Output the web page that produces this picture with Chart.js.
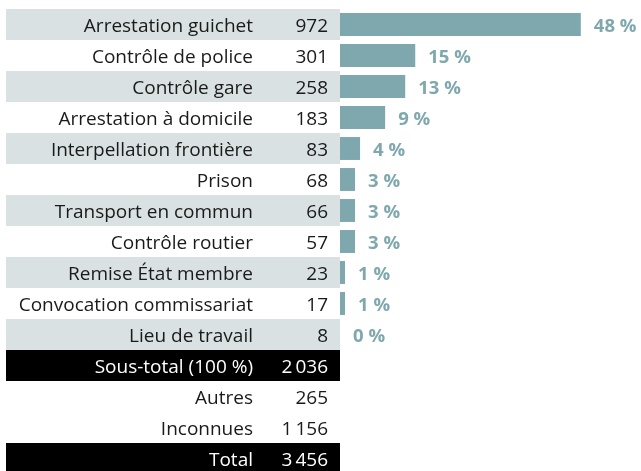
<!DOCTYPE html>
<html>
<head>
<meta charset="utf-8">
<script src="https://cdn.jsdelivr.net/npm/chart.js@4"></script>
<style>
  html, body { margin: 0; padding: 0; background: #fff; overflow: hidden; }
  #wrap { width: 641px; height: 471px; overflow: hidden; }
</style>
</head>
<body>
<div id="wrap"><canvas id="chart" width="641" height="480"></canvas></div>
<script>
var categories = [
  "Arrestation guichet", "Contrôle de police", "Contrôle gare", "Arrestation à domicile",
  "Interpellation frontière", "Prison", "Transport en commun", "Contrôle routier",
  "Remise État membre", "Convocation commissariat", "Lieu de travail",
  "Sous-total (100 %)", "Autres", "Inconnues", "Total"
];
var counts = [972, 301, 258, 183, 83, 68, 66, 57, 23, 17, 8, 2036, 265, 1156, 3456];
var percents = [48, 15, 13, 9, 4, 3, 3, 3, 1, 1, 0];
var totalRows = [11, 14];

var BAR = "#7fa8ae";
var BAND = "#d9e1e2";
var FONT = "19px 'Open Sans'";
var BOLD = "bold 18.5px 'Open Sans'";

function fmt(n) {
  return String(n).replace(/\B(?=(\d{3})+(?!\d))/g, "\u2009");
}

// bar lengths follow the rounded shares; the total rows get no bar
var barValues = categories.map(function (c, i) {
  return i < percents.length ? percents[i] : null;
});

var tablePlugin = {
  id: "table",
  beforeDatasetsDraw: function (chart) {
    var ctx = chart.ctx, y = chart.scales.y;
    var step = Math.abs(y.getPixelForValue(1) - y.getPixelForValue(0));
    ctx.save();
    categories.forEach(function (c, i) {
      var cy = y.getPixelForValue(i);
      var dark = totalRows.indexOf(i) >= 0;
      if (dark) {
        ctx.fillStyle = "#000";
        ctx.fillRect(6, cy - step / 2, 334, step);
      } else if (i % 2 === 0 && i < percents.length) {
        ctx.fillStyle = BAND;
        ctx.fillRect(6, cy - step / 2, 334, step);
      }
      ctx.fillStyle = dark ? "#fff" : "#1a1a1a";
      ctx.font = FONT;
      ctx.textAlign = "right";
      ctx.textBaseline = "alphabetic";
      ctx.fillText(c, 253, cy + 7);
      ctx.fillText(fmt(counts[i]), 328, cy + 7);
    });
    ctx.restore();
  },
  afterDatasetsDraw: function (chart) {
    var ctx = chart.ctx;
    var bars = chart.getDatasetMeta(0).data;
    ctx.save();
    ctx.font = BOLD;
    ctx.fillStyle = BAR;
    ctx.textAlign = "left";
    ctx.textBaseline = "alphabetic";
    percents.forEach(function (p, i) {
      var b = bars[i];
      ctx.fillText(p + "\u00a0%", b.x + 13, b.y + 7);
    });
    ctx.restore();
  }
};

new Chart(document.getElementById("chart").getContext("2d"), {
  type: "bar",
  data: {
    labels: categories,
    datasets: [{
      data: barValues,
      backgroundColor: BAR,
      borderWidth: 0,
      categoryPercentage: 1,
      barPercentage: 0.74
    }]
  },
  options: {
    indexAxis: "y",
    responsive: false,
    animation: false,
    layout: { padding: { left: 340, right: 0, top: 9, bottom: 6 } },
    scales: {
      x: { display: false, min: 0, max: 60 },
      y: { display: false }
    },
    plugins: { legend: { display: false }, tooltip: { enabled: false } }
  },
  plugins: [tablePlugin]
});
</script>
</body>
</html>
